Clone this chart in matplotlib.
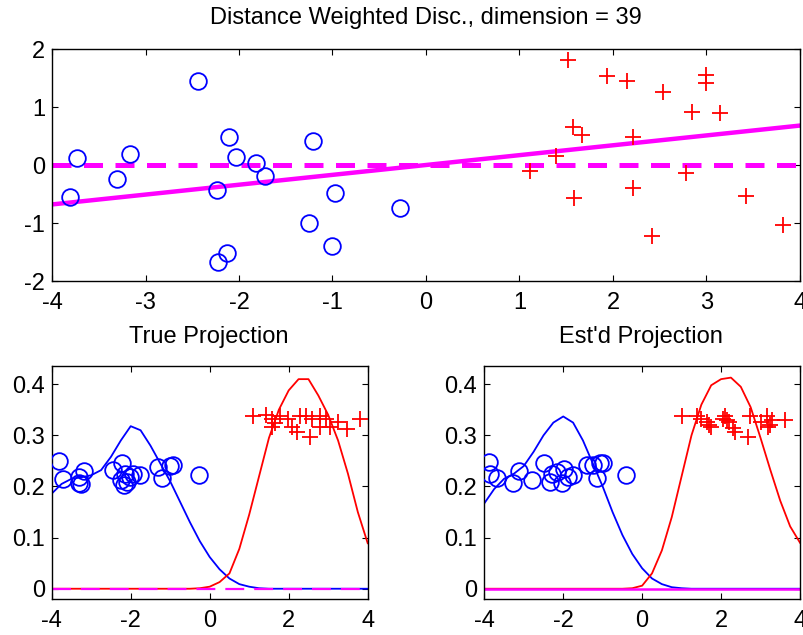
import matplotlib
matplotlib.use("Agg")
import matplotlib.pyplot as plt
import numpy as np

plt.rcParams['font.family'] = ['Liberation Sans', 'DejaVu Sans']
plt.rcParams['axes.unicode_minus'] = False

# ---------------- data ----------------
# top scatter (first two coordinates)
blue_x = [-3.81, -3.73, -3.30, -3.17, -2.44, -2.24, -2.22, -2.125, -2.11, -2.03,
          -1.82, -1.72, -1.25, -1.21, -1.007, -0.97, -0.28]
blue_y = [-0.557, 0.115, -0.24, 0.19, 1.454, -0.425, -1.678, -1.517, 0.477, 0.132,
          0.029, -0.195, -1.006, 0.408, -1.402, -0.477, -0.747]
red_x = [1.524, 1.941, 2.148, 2.532, 2.996, 2.996, 2.846, 3.149, 1.567, 1.667,
         2.219, 1.393, 1.108, 2.782, 2.219, 1.585, 3.423, 2.415, 3.822]
red_y = [1.81, 1.54, 1.454, 1.264, 1.557, 1.414, 0.92, 0.902, 0.649, 0.523,
         0.489, 0.161, -0.098, -0.144, -0.402, -0.569, -0.529, -1.218, -1.029]
true_dir_x = [-4, 4]
true_dir_y = [0, 0]
dwd_dir_x = [-4, 4]
dwd_dir_y = [-0.68, 0.68]

# bottom-left: true projection
tp_blue_x = [-3.82, -3.72, -3.32, -3.30, -3.17, -2.44, -2.24, -2.21, -2.16, -2.14,
             -2.10, -2.02, -1.93, -1.76, -1.30, -1.20, -1.00, -0.92, -0.27, -3.26]
tp_blue_y = [0.249, 0.214, 0.219, 0.207, 0.230, 0.232, 0.212, 0.246, 0.203, 0.225,
             0.209, 0.219, 0.225, 0.222, 0.238, 0.216, 0.240, 0.243, 0.223, 0.205]
tp_red_x = [1.10, 1.425, 1.57, 1.57, 1.78, 1.99, 2.08, 2.20, 2.29, 2.45,
            2.54, 2.60, 2.79, 2.79, 2.95, 3.05, 3.26, 3.47, 3.80, 1.65]
tp_red_y = [0.338, 0.339, 0.332, 0.317, 0.338, 0.332, 0.317, 0.307, 0.338, 0.338,
            0.297, 0.332, 0.338, 0.317, 0.332, 0.317, 0.326, 0.313, 0.332, 0.325]

# bottom-right: estimated projection
ep_blue_x = [-3.87, -3.86, -3.69, -3.28, -3.11, -2.80, -2.49, -2.29, -2.34, -2.15,
             -2.04, -1.97, -1.87, -1.74, -1.40, -1.24, -1.07, -1.15, -0.98, -0.41]
ep_blue_y = [0.248, 0.224, 0.216, 0.206, 0.231, 0.212, 0.246, 0.225, 0.209, 0.229,
             0.206, 0.235, 0.219, 0.222, 0.242, 0.242, 0.245, 0.216, 0.245, 0.222]
ep_red_x = [1.00, 1.40, 1.50, 1.64, 1.75, 2.05, 2.10, 2.14, 2.20, 2.35,
            2.69, 2.73, 3.00, 3.16, 3.24, 3.30, 3.62, 1.70, 2.30, 3.20]
ep_red_y = [0.338, 0.338, 0.332, 0.326, 0.317, 0.332, 0.338, 0.330, 0.326, 0.307,
            0.297, 0.338, 0.326, 0.338, 0.320, 0.330, 0.330, 0.320, 0.315, 0.316]

# density curves (read at x = -4 .. 4 step 0.25)
grid_x = [-4.0, -3.75, -3.5, -3.25, -3.0, -2.75, -2.5, -2.25, -2.0, -1.75, -1.5,
          -1.25, -1.0, -0.75, -0.5, -0.25, 0.0, 0.25, 0.5, 0.75, 1.0, 1.25, 1.5,
          1.75, 2.0, 2.25, 2.5, 2.75, 3.0, 3.25, 3.5, 3.75, 4.0]
tp_blue_d = [0.186, 0.205, 0.215, 0.218, 0.222, 0.232, 0.258, 0.290, 0.318, 0.310,
             0.280, 0.245, 0.210, 0.170, 0.130, 0.093, 0.062, 0.038, 0.020, 0.009,
             0.004, 0.001, 0.0, 0.0, 0.0, 0.0, 0.0, 0.0, 0.0, 0.0, 0.0, 0.0, 0.0]
tp_red_d = [0.0, 0.0, 0.0, 0.0, 0.0, 0.0, 0.0, 0.0, 0.0, 0.0, 0.0,
            0.0, 0.0, 0.0, 0.0, 0.001, 0.004, 0.013, 0.030, 0.078, 0.145, 0.220, 0.295,
            0.350, 0.388, 0.410, 0.410, 0.378, 0.340, 0.290, 0.225, 0.150, 0.089]
ep_blue_d = [0.167, 0.195, 0.215, 0.225, 0.240, 0.268, 0.300, 0.325, 0.337, 0.325,
             0.290, 0.245, 0.200, 0.150, 0.105, 0.068, 0.040, 0.020, 0.009, 0.003,
             0.001, 0.0, 0.0, 0.0, 0.0, 0.0, 0.0, 0.0, 0.0, 0.0, 0.0, 0.0, 0.0]
ep_red_d = [0.0, 0.0, 0.0, 0.0, 0.0, 0.0, 0.0, 0.0, 0.0, 0.0, 0.0,
            0.0, 0.0, 0.0, 0.0, 0.001, 0.006, 0.030, 0.075, 0.140, 0.220, 0.300, 0.360,
            0.398, 0.410, 0.413, 0.395, 0.355, 0.295, 0.232, 0.172, 0.122, 0.090]

# ---------------- figure ----------------
fig = plt.figure(figsize=(8.04, 6.35), dpi=100)
W, H = 804.0, 635.0

def axes_px(x0, y0, x1, y1):
    return fig.add_axes([x0 / W, 1 - y1 / H, (x1 - x0) / W, (y1 - y0) / H])

FS = 17
MAG = '#ff00ff'

def style(ax):
    ax.tick_params(direction='in', top=True, right=True, length=4.5, width=0.8,
                   labelsize=FS)
    ax.tick_params(axis='x', pad=8)
    ax.tick_params(axis='y', pad=5)
    for s in ax.spines.values():
        s.set_linewidth(1.0)

ax1 = axes_px(52, 49, 800, 281)
ax1.plot(true_dir_x, true_dir_y, color=MAG, lw=3.6, dashes=(3.8, 2.5),
         solid_capstyle='butt', dash_capstyle='butt', zorder=2)
ax1.plot(dwd_dir_x, dwd_dir_y, color=MAG, lw=3.2, zorder=2)
ax1.plot(blue_x, blue_y, 'o', ms=12, mfc='none', mec='#0000ff', mew=1.3, zorder=3)
ax1.plot(red_x, red_y, '+', ms=12, mec='#ff0000', mew=1.3, zorder=3)
ax1.set_xlim(-4, 4)
ax1.set_ylim(-2, 2)
ax1.set_xticks([-4, -3, -2, -1, 0, 1, 2, 3, 4])
ax1.set_yticks([-2, -1, 0, 1, 2])
style(ax1)

def bottom(ax, bx, by, rx, ry, bd, rd, dashed):
    ax.plot(grid_x, bd, color='#0000ff', lw=1.3, zorder=2)
    ax.plot(grid_x, rd, color='#ff0000', lw=1.3, zorder=2)
    if dashed:
        ax.plot([-4, 4], [0, 0], color=MAG, lw=1.6, dashes=(8.5, 4.5), zorder=2.5)
    else:
        ax.plot([-4, 4], [0, 0], color=MAG, lw=1.8, zorder=2.5)
    ax.plot(bx, by, 'o', ms=12, mfc='none', mec='#0000ff', mew=1.3, zorder=3)
    ax.plot(rx, ry, '+', ms=12, mec='#ff0000', mew=1.3, zorder=3)
    ax.set_xlim(-4, 4)
    ax.set_ylim(-0.0195, 0.4357)
    ax.set_xticks([-4, -2, 0, 2, 4])
    ax.set_yticks([0, 0.1, 0.2, 0.3, 0.4])
    ax.set_yticklabels(['0', '0.1', '0.2', '0.3', '0.4'])
    style(ax)

ax2 = axes_px(51.7, 366, 367.7, 598.7)
bottom(ax2, tp_blue_x, tp_blue_y, tp_red_x, tp_red_y, tp_blue_d, tp_red_d, True)
ax3 = axes_px(484.3, 366, 800, 598.7)
bottom(ax3, ep_blue_x, ep_blue_y, ep_red_x, ep_red_y, ep_blue_d, ep_red_d, False)

fig.text(426 / W, 1 - 18 / H, 'Distance Weighted Disc., dimension = 39',
         ha='center', va='center', fontsize=FS)
fig.text(209 / W, 1 - 337 / H, 'True Projection', ha='center', va='center', fontsize=FS)
fig.text(641 / W, 1 - 337 / H, "Est'd Projection", ha='center', va='center', fontsize=FS)

fig.savefig('out.png', dpi=100)
